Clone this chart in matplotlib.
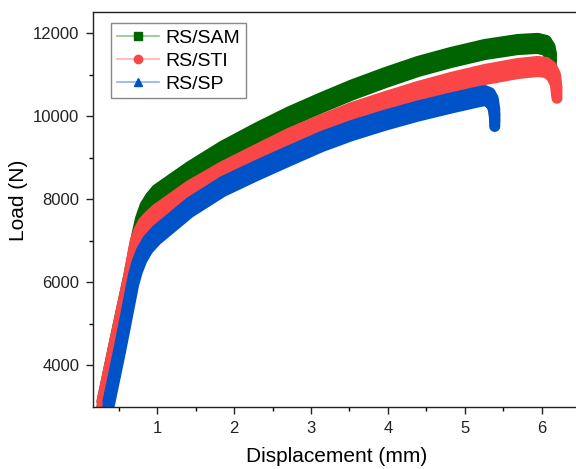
import matplotlib
matplotlib.use("Agg")
import matplotlib.pyplot as plt
from matplotlib.lines import Line2D
from matplotlib.transforms import offset_copy

plt.rcParams['font.family'] = ['Liberation Sans', 'DejaVu Sans']

# Load-displacement curves (centre of each band)
sam_disp = [0.28, 0.45, 0.63, 0.72, 0.78, 0.84, 0.91, 0.99, 1.42, 1.85, 2.29, 2.71,
            3.14, 3.53, 3.97, 4.39, 4.82, 5.26, 5.69, 5.95, 6.06, 6.11, 6.13]
sam_load = [3000, 4500, 6048, 6900, 7400, 7720, 7930, 8108, 8663, 9157, 9590, 9976,
            10325, 10627, 10928, 11193, 11410, 11602, 11723, 11750, 11700, 11550, 11350]

sti_disp = [0.28, 0.45, 0.63, 0.71, 0.76, 0.82, 0.90, 0.99, 1.42, 1.85, 2.29, 2.71,
            3.14, 3.53, 3.97, 4.39, 4.82, 5.26, 5.69, 5.95, 6.06, 6.13, 6.18, 6.20]
sti_load = [3000, 4500, 6048, 6850, 7120, 7330, 7490, 7640, 8205, 8663, 9072, 9458,
            9795, 10084, 10349, 10590, 10807, 11000, 11145, 11195, 11170, 11070, 10880, 10550]

sp_disp = [0.357, 0.52, 0.69, 0.74, 0.80, 0.88, 0.99, 1.42, 1.85, 2.29, 2.71, 3.14,
           3.53, 3.97, 4.39, 4.82, 5.17, 5.26, 5.33, 5.37, 5.39, 5.39]
sp_load = [3000, 4440, 6050, 6380, 6660, 6910, 7133, 7795, 8301, 8687, 9036, 9386,
           9651, 9904, 10120, 10313, 10460, 10494, 10440, 10300, 10050, 9870]

labels = ['RS/SAM', 'RS/STI', 'RS/SP']
colors = ['#006400', '#fa4646', '#0052c8']
light_colors = ['#8cc88c', '#ffb0b0', '#8cb4f0']
markers = ['s', 'o', '^']

fig = plt.figure(figsize=(5.76, 4.69), dpi=100)
ax = fig.add_axes([0.162, 0.1328, 0.845, 0.8416])

series = [(sam_disp, sam_load), (sti_disp, sti_load), (sp_disp, sp_load)]
for (xs, ys), c in zip(series, colors):
    # dense noisy markers in the original -> thick band, shifted strokes
    for dy in (-3.6, 0, 3.6):
        tr = offset_copy(ax.transData, fig=fig, y=dy, units='points')
        ax.plot(xs, ys, color=c, lw=8, solid_capstyle='round',
                solid_joinstyle='round', transform=tr)

ax.set_xlim(0.167, 6.46)
ax.set_ylim(3000, 12506)
ax.set_xticks([1, 2, 3, 4, 5, 6])
ax.set_xticks([0.5, 1.5, 2.5, 3.5, 4.5, 5.5, 6.5], minor=True)
ax.set_yticks([4000, 6000, 8000, 10000, 12000])
ax.set_yticks([5000, 7000, 9000, 11000], minor=True)
ax.tick_params(which='major', direction='out', length=5, width=1, labelsize=12,
               colors='#222222', pad=5)
ax.tick_params(which='minor', direction='out', length=3, width=1)
for s in ax.spines.values():
    s.set_linewidth(1.0)
    s.set_color('#222222')

ax.set_xlabel('Displacement (mm)', fontsize=15, labelpad=8)
ax.set_ylabel('Load (N)', fontsize=15)
ax.yaxis.set_label_coords(-0.134, 0.524)

handles = [Line2D([], [], color=lc, lw=1.2, marker=m, markersize=6,
                  markerfacecolor=c, markeredgecolor=c)
           for c, lc, m in zip(colors, light_colors, markers)]
leg = ax.legend(handles, labels, loc='upper left', bbox_to_anchor=(0.036, 0.972),
                borderaxespad=0, fontsize=14, frameon=True, fancybox=False,
                handlelength=2.2, handletextpad=0.3, labelspacing=0.28,
                borderpad=0.3, framealpha=1)
leg.get_frame().set_edgecolor('#888888')
leg.get_frame().set_linewidth(1.0)

fig.savefig('out.png', dpi=100)
